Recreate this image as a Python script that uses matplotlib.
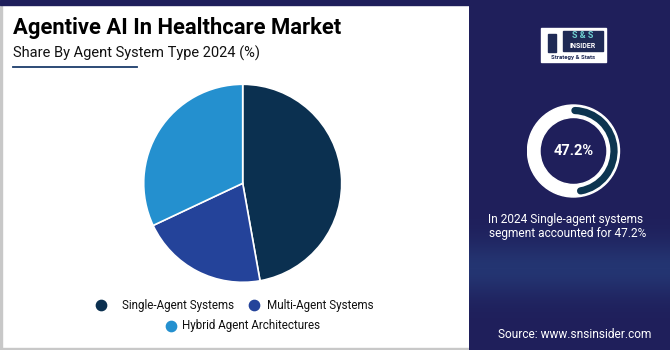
import numpy as np
import matplotlib
matplotlib.use("Agg")
import matplotlib.pyplot as plt
from matplotlib.patches import Rectangle, Arc, Wedge

plt.rcParams['font.family'] = ['Roboto', 'DejaVu Sans']

# data
segments = ["Single-Agent Systems", "Multi-Agent Systems", "Hybrid Agent Architectures"]
shares = [47.2, 20.8, 32.0]
colors = ["#0b3050", "#24439a", "#2490cf"]
highlight = 47.2

W, H = 670, 350
fig = plt.figure(figsize=(W / 100, H / 100), dpi=100)

# background axes in pixel coordinates
bg = fig.add_axes([0, 0, 1, 1])
bg.set_xlim(0, W)
bg.set_ylim(H, 0)
bg.axis("off")

bg.add_patch(Rectangle((0, 0), W, H, color="white", zorder=0))
bg.add_patch(Rectangle((0, 0), 2, H, color="#c8c8c8", zorder=1))
bg.add_patch(Rectangle((0, H - 2), W, 2, color="#c8c8c8", zorder=1))
bg.add_patch(Rectangle((0, 0), W, 4.5, color="#1f1f5b", zorder=2))

# right panel with soft vertical gradient
grad = np.ones((H, 1, 3))
top = np.array([0x1f, 0x1f, 0x5b]) / 255
mid = np.array([0x24, 0x35, 0x72]) / 255
yy = np.arange(H)
w = np.exp(-((yy - 268) / 28.0) ** 2)
grad[:, 0, :] = top * (1 - w)[:, None] + mid * w[:, None]
bg.imshow(grad, extent=(469, W, H, 0), aspect="auto", zorder=2)

# title
bg.text(13, 28, "Agentive AI In Healthcare Market", fontsize=15.8, fontweight="bold",
        color="black", va="center", ha="left", zorder=3)
bg.text(13, 53, "Share By Agent System Type 2024 (%)", fontsize=10.5,
        color="#111111", va="center", ha="left", zorder=3)
bg.plot([13, 137], [67, 67], color="#1b3d6b", lw=1.3, zorder=3)

# logo (simplified)
bg.add_patch(Rectangle((541, 28), 65, 34, color="white", zorder=3))
bg.add_patch(Rectangle((563, 31), 40, 20, facecolor="#1f2a55", edgecolor="#1f2a55", zorder=4))
bg.text(583, 36, "S & S", fontsize=6.5, fontweight="bold", color="#6fd0d0",
        ha="center", va="center", zorder=5)
bg.text(583, 46, "INSIDER", fontsize=5, fontweight="bold", color="white",
        ha="center", va="center", zorder=5)
bg.text(573.5, 57, "Strategy & Stats", fontsize=4.3, fontweight="bold", color="#1f2a55",
        ha="center", va="center", zorder=5)
bg.add_patch(Rectangle((548, 34), 8, 18, color="#1f2a55", zorder=4))

# right panel text
bg.text(566, 226, "In 2024 Single-agent systems\n segment accounted for 47.2%",
        fontsize=8.6, color="white", ha="center", va="center", linespacing=1.1, zorder=3)
bg.text(575, 334, "Source: www.snsinsider.com", fontsize=8.6, color="white",
        ha="center", va="center", zorder=3)

# legend
leg_rows = [(101, 122, 305, 0), (254, 267, 305, 1), (171, 182, 326, 2)]
for dx, tx, ty, i in leg_rows:
    bg.scatter([dx], [ty], s=55, color=colors[i], zorder=3)
    bg.text(tx, ty, segments[i], fontsize=8.4, color="#111111", va="center", ha="left", zorder=3)

# pie
cx, cy, r = 242.7, 183.3, 99
pie_ax = fig.add_axes([(cx - r) / W, 1 - (cy + r) / H, 2 * r / W, 2 * r / H])
pie_ax.pie(shares, colors=colors, startangle=90, counterclock=False, radius=1,
           wedgeprops=dict(edgecolor="white", linewidth=1.2))
pie_ax.set_xlim(-1, 1)
pie_ax.set_ylim(-1, 1)
pie_ax.axis("off")

# donut highlight
dx0, dy0, dr = 573.5, 151, 47
don = fig.add_axes([(dx0 - dr) / W, 1 - (dy0 + dr) / H, 2 * dr / W, 2 * dr / H])
don.set_xlim(-dr, dr)
don.set_ylim(-dr, dr)
don.axis("off")
don.add_patch(Wedge((0, 0), 46, 0, 360, width=12.5, color="white"))
don.add_patch(Arc((0, 0), 81, 81, theta1=90 - 360 * highlight / 100, theta2=88,
                  color="#0d3550", lw=5.2, capstyle="round"))
don.text(0, 0, f"{highlight}%", fontsize=10.5, fontweight="bold", color="white",
         ha="center", va="center")

fig.savefig("out.png", dpi=100)
